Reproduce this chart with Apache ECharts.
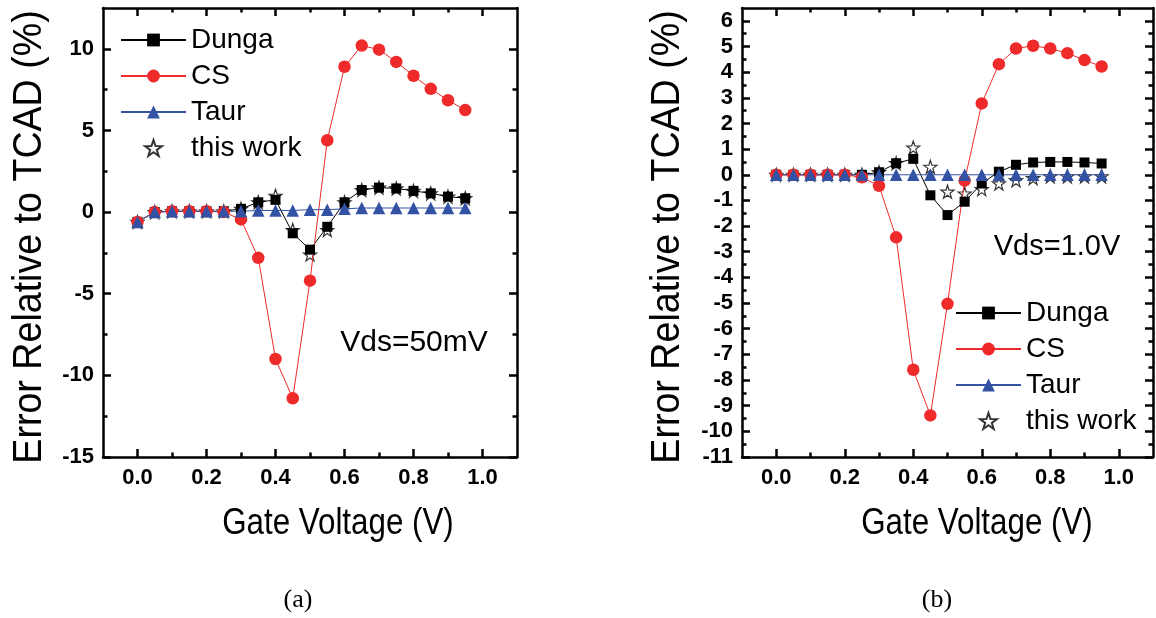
<!DOCTYPE html>
<html>
<head>
<meta charset="utf-8">
<script src="https://cdn.jsdelivr.net/npm/echarts@6/dist/echarts.min.js"></script>
<style>
  html, body { margin: 0; padding: 0; background: #fff; }
  #chart { width: 1156px; height: 618px; }
</style>
</head>
<body>
<div id="chart"></div>
<script>
// gate voltage samples (V)
const gateV = [0, 0.05, 0.1, 0.15, 0.2, 0.25, 0.3, 0.35, 0.4, 0.45, 0.5, 0.55, 0.6, 0.65, 0.7, 0.75, 0.8, 0.85, 0.9, 0.95];

// (a) Vds = 50mV, error in %
const dungaA = [-0.6, 0, 0.05, 0.05, 0.05, 0.05, 0.2, 0.6, 0.75, -1.3, -2.3, -0.9, 0.6, 1.35, 1.5, 1.45, 1.3, 1.15, 0.95, 0.85];
const csA = [-0.6, 0, 0.05, 0.05, 0.05, 0, -0.45, -2.8, -9.0, -11.4, -4.2, 4.4, 8.9, 10.2, 9.95, 9.2, 8.35, 7.55, 6.85, 6.25];
const taurA = [-0.6, 0, 0.05, 0.05, 0.05, 0.05, 0.05, 0.1, 0.1, 0.1, 0.15, 0.15, 0.2, 0.25, 0.25, 0.25, 0.25, 0.25, 0.25, 0.25];
const workA = [-0.6, 0, 0.05, 0.05, 0.05, 0.05, 0.2, 0.6, 1.0, -1.1, -2.6, -1.1, 0.6, 1.35, 1.5, 1.45, 1.3, 1.15, 0.95, 0.85];

// (b) Vds = 1.0V, error in %
const dungaB = [0, 0, 0, 0, 0, 0, 0.1, 0.45, 0.62, -0.8, -1.57, -1.05, -0.34, 0.12, 0.39, 0.48, 0.5, 0.5, 0.48, 0.44];
const csB = [0, 0, 0, 0, 0, -0.1, -0.43, -2.44, -7.6, -9.38, -5.03, -0.23, 2.78, 4.31, 4.92, 5.03, 4.92, 4.74, 4.47, 4.22];
const taurB = [0, 0, 0, 0, 0, 0, 0, 0, 0, 0, 0, 0, 0, 0, 0, 0, 0, 0, 0, 0];
const workB = [0, 0, 0, 0, 0, 0, 0.1, 0.45, 1.06, 0.31, -0.66, -0.73, -0.56, -0.34, -0.21, -0.13, -0.06, -0.06, -0.06, -0.06];

// tick values
const xMajor = [0, 0.2, 0.4, 0.6, 0.8, 1.0];
const xMinor = [0.1, 0.3, 0.5, 0.7, 0.9];
const yMajorA = [-15, -10, -5, 0, 5, 10];
const yMinorA = [-12.5, -7.5, -2.5, 2.5, 7.5];
const yMajorB = [-11, -10, -9, -8, -7, -6, -5, -4, -3, -2, -1, 0, 1, 2, 3, 4, 5, 6];
const yMinorB = [-10.5, -9.5, -8.5, -7.5, -6.5, -5.5, -4.5, -3.5, -2.5, -1.5, -0.5, 0.5, 1.5, 2.5, 3.5, 4.5, 5.5];

const seriesNames = ["Dunga", "CS", "Taur", "this work"];

const RED = "#ee2a2a";
const BLUE = "#3452a4";
const FONT = "'Liberation Sans', Arial, sans-serif";
const STAR = "path://M50,0 L61.8,35.1 L98.9,35.5 L69.1,57.7 L80.1,93.1 L50,71.6 L19.9,93.1 L30.9,57.7 L1.1,35.5 L38.2,35.1 Z";

const chart = echarts.init(document.getElementById("chart"));

function pairs(ys) {
  return gateV.map((x, i) => [x, ys[i]]);
}

function makeAxes(dim, grid, min, max, major, minor, fmt) {
  const sides = dim === "x" ? ["bottom", "top"] : ["left", "right"];
  const axes = [];
  sides.forEach((pos, k) => {
    [major, minor].forEach((vals, j) => {
      axes.push({
        type: "value",
        gridIndex: grid,
        position: pos,
        min: min,
        max: max,
        splitLine: { show: false },
        axisLine: { show: j === 0, onZero: false, lineStyle: { color: "#000", width: 2.5 } },
        axisTick: {
          show: true,
          inside: true,
          length: j === 0 ? 8 : 4.5,
          customValues: vals,
          lineStyle: { color: "#000", width: 2.5 },
        },
        axisLabel: {
          show: k === 0 && j === 0,
          customValues: vals,
          formatter: fmt,
          color: "#000",
          fontFamily: FONT,
          fontWeight: "bold",
          fontSize: 22,
          margin: dim === "x" ? 10 : 9,
        },
      });
    });
  });
  return axes;
}

function makeSeries(xi, yi, dunga, cs, taur, work) {
  return [
    {
      name: "Dunga", type: "line", xAxisIndex: xi, yAxisIndex: yi,
      data: pairs(dunga), symbol: "rect", symbolSize: 10,
      itemStyle: { color: "#000" }, lineStyle: { color: "#000", width: 1 },
    },
    {
      name: "CS", type: "line", xAxisIndex: xi, yAxisIndex: yi,
      data: pairs(cs), symbol: "circle", symbolSize: 12.5,
      itemStyle: { color: RED }, lineStyle: { color: RED, width: 1 },
    },
    {
      name: "Taur", type: "line", xAxisIndex: xi, yAxisIndex: yi,
      data: pairs(taur), symbol: "triangle", symbolSize: 12.5,
      itemStyle: { color: BLUE }, lineStyle: { color: BLUE, width: 1 },
    },
    {
      name: "this work", type: "scatter", xAxisIndex: xi, yAxisIndex: yi,
      data: pairs(work), symbol: STAR, symbolSize: 13,
      itemStyle: { color: "#fff", borderColor: "#000", borderWidth: 1.2 },
    },
  ].map((s) => Object.assign(s, { animation: false, silent: true }));
}

const fmtX = (v) => Number(v).toFixed(1);
const fmtY = (v) => String(v);

const legendBase = {
  orient: "vertical",
  data: seriesNames,
  itemWidth: 65,
  itemHeight: 16,
  itemGap: 8,
  selectedMode: false,
  textStyle: { fontFamily: FONT, fontSize: 28, color: "#000", lineHeight: 28 },
};

function titleText(x, y, text, rot, scale, size) {
  return {
    type: "text",
    x: x, y: y, rotation: rot, scaleX: scale,
    style: {
      text: text, x: 0, y: 0,
      align: "center", verticalAlign: "middle",
      textAlign: "center", textVerticalAlign: "middle",
      font: `${size}px ${FONT}`, fill: "#000",
    },
  };
}

chart.setOption({
  backgroundColor: "#fff",
  animation: false,
  grid: [
    { left: 103, right: 639, top: 8, bottom: 161 },
    { left: 742, right: 3, top: 8, bottom: 161 },
  ],
  xAxis: [
    ...makeAxes("x", 0, -0.1, 1.1, xMajor, xMinor, fmtX),
    ...makeAxes("x", 1, -0.1, 1.1, xMajor, xMinor, fmtX),
  ],
  yAxis: [
    ...makeAxes("y", 0, -15, 12.5, yMajorA, yMinorA, fmtY),
    ...makeAxes("y", 1, -11, 6.5, yMajorB, yMinorB, fmtY),
  ],
  legend: [
    Object.assign({ left: 115, top: 21 }, legendBase),
    Object.assign({ left: 950, top: 294 }, legendBase),
  ],
  series: [
    ...makeSeries(0, 0, dungaA, csA, taurA, workA),
    ...makeSeries(4, 4, dungaB, csB, taurB, workB),
  ],
  graphic: [
    titleText(30, 237, "Error Relative to TCAD (%)", Math.PI / 2, 0.94, 40),
    titleText(668, 237, "Error Relative to TCAD (%)", Math.PI / 2, 0.94, 40),
    titleText(338, 524, "Gate Voltage (V)", 0, 0.87, 36),
    titleText(977, 524, "Gate Voltage (V)", 0, 0.87, 36),
    titleText(414, 343, "Vds=50mV", 0, 1, 30),
    titleText(1057, 247, "Vds=1.0V", 0, 1, 29),
    {
      type: "text", x: 298, y: 600,
      style: { text: "(a)", x: 0, y: 0, align: "center", verticalAlign: "middle", textAlign: "center", textVerticalAlign: "middle", font: "26px 'Liberation Serif', serif", fill: "#000" },
    },
    {
      type: "text", x: 937, y: 600,
      style: { text: "(b)", x: 0, y: 0, align: "center", verticalAlign: "middle", textAlign: "center", textVerticalAlign: "middle", font: "26px 'Liberation Serif', serif", fill: "#000" },
    },
  ],
});
</script>
</body>
</html>
